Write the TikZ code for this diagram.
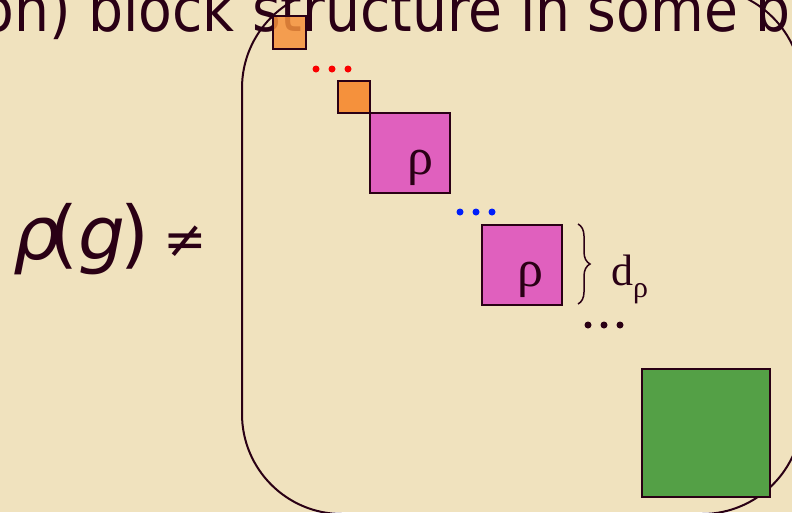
\documentclass[tikz,border=0pt]{standalone}
\usepackage{fontspec}
\setmainfont{Liberation Serif}
\newfontfamily\titlefont{DejaVu Sans}
\usetikzlibrary{decorations.pathreplacing}
\definecolor{parch}{RGB}{240,226,190}
\definecolor{ink}{RGB}{42,0,21}
\definecolor{orangeblk}{RGB}{245,145,60}
\definecolor{pinkblk}{RGB}{224,96,190}
\definecolor{greenblk}{RGB}{84,160,70}
\definecolor{reddot}{RGB}{250,0,0}
\definecolor{bluedot}{RGB}{0,30,250}
\begin{document}
\begin{tikzpicture}[x=1pt,y=-1pt,
  blk/.style={draw=ink,line width=2.4pt,minimum size=#1,inner sep=0pt,anchor=north west},
  dot/.style={circle,inner sep=0pt,minimum size=7pt},
  lbl/.style={text=ink,inner sep=0pt},
  fglyph/.style={lbl,anchor=base,font=\titlefont\fontsize{74}{74}\selectfont}]
\useasboundingbox (0,0) rectangle (792,512);
\clip (0,0) rectangle (792,512);
\fill[parch] (0,0) rectangle (792,512);
% title line (cut off)
\node[lbl,anchor=base west,font=\titlefont\fontsize{62}{62}\selectfont] (title) at (88,31) {\scalebox{0.89}[1]{\llap{on)\ }block structure in some b}};
% formula
\node[fglyph,font=\titlefont\itshape\fontsize{74}{74}\selectfont] (frho) at (37,259) {ρ};
\node[fglyph] (fpl) at (64,259) {(};
\node[fglyph,font=\titlefont\itshape\fontsize{74}{74}\selectfont] (fg) at (102,259) {g};
\node[fglyph] (fpr) at (135,259) {)};
\node[lbl,font=\titlefont\fontsize{52}{52}\selectfont] (fneq) at (185,242) {≠};
% big bracket
\draw[ink,line width=2pt,rounded corners=100pt] (242,-12) rectangle (802,514);
% blocks
\node[blk=33pt,fill=orangeblk,fill opacity=0.85] (o1) at (272,15) {};
\node[dot,fill=reddot] (r1) at (316,69) {};
\node[dot,fill=reddot] (r2) at (332,69) {};
\node[dot,fill=reddot] (r3) at (348,69) {};
\node[blk=32pt,fill=orangeblk] (o2) at (337,80) {};
\node[blk=80pt,fill=pinkblk] (p1) at (369,112) {};
\node[lbl,anchor=base,font=\fontsize{52}{52}\selectfont] (p1l) at (420,174) {ρ};
\node[dot,fill=bluedot] (b1) at (460,212) {};
\node[dot,fill=bluedot] (b2) at (476,212) {};
\node[dot,fill=bluedot] (b3) at (492,212) {};
\node[blk=80pt,fill=pinkblk] (p2) at (481,224) {};
\node[lbl,anchor=base,font=\fontsize{52}{52}\selectfont] (p2l) at (530,286) {ρ};
\coordinate (bt) at (578,224);
\coordinate (bb) at (578,304);
\draw[ink,line width=1.5pt,decorate,decoration={brace,amplitude=12pt}] (bt) -- (bb);
\node[lbl,anchor=base west,font=\fontsize{44}{44}\selectfont] (dlab) at (611,285) {d\raisebox{-12pt}{\fontsize{30}{30}\selectfont ρ}};
\node[dot,fill=ink] (k1) at (588,325) {};
\node[dot,fill=ink] (k2) at (604,325) {};
\node[dot,fill=ink] (k3) at (620,325) {};
\node[blk=128pt,fill=greenblk] (g1) at (641,368) {};
\end{tikzpicture}
\end{document}
